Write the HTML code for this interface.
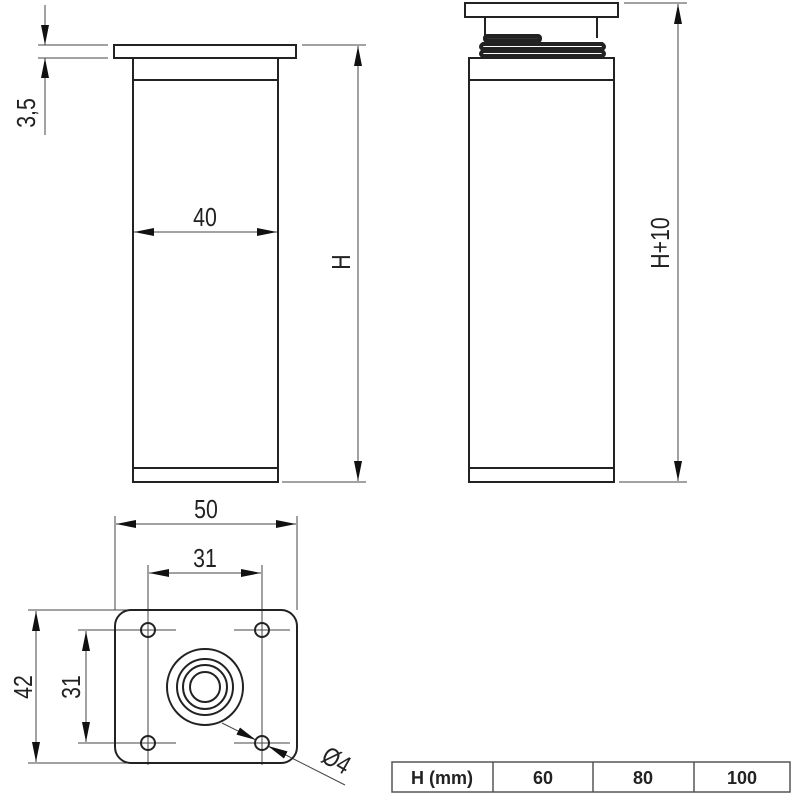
<!DOCTYPE html>
<html><head><style>
html,body{margin:0;padding:0;background:#fff;}
svg{display:block;}
text{font-family:"Liberation Sans",sans-serif;fill:#222;}
</style></head><body>
<svg width="800" height="800" viewBox="0 0 800 800" xmlns="http://www.w3.org/2000/svg">
<defs>
<marker id="a" viewBox="0 0 20 8" refX="20" refY="4" markerWidth="20" markerHeight="8" orient="auto-start-reverse" markerUnits="userSpaceOnUse"><path d="M0,0 L20,4 L0,8 Z" fill="#111"/></marker>
</defs>
<g fill="none" stroke="#222" stroke-width="2">
<rect x="114" y="45" width="182" height="13"/>
<rect x="133" y="58" width="145" height="424"/>
<line x1="133" y1="80" x2="278" y2="80"/>
<line x1="133" y1="468" x2="278" y2="468"/>
<rect x="465" y="3" width="153" height="14"/>
<line x1="485" y1="17" x2="485" y2="38"/>
<line x1="597" y1="17" x2="597" y2="38"/>
<rect x="469" y="58" width="145" height="424"/>
<line x1="469" y1="80" x2="614" y2="80"/>
<line x1="469" y1="468" x2="614" y2="468"/>
</g>
<g fill="none" stroke="#222" stroke-width="4">
<rect x="485" y="36" width="55" height="5" rx="2" fill="#333"/>
<path d="M483,44 Q479,47 483,49 L602,49 Q606,47 602,44 Z"/>
<path d="M483,51 Q479,54 483,56 L602,56 Q606,54 602,51 Z"/>
</g>
<g fill="none" stroke="#444" stroke-width="1">
<line x1="45" y1="5" x2="45" y2="45" marker-end="url(#a)"/>
<line x1="45" y1="135" x2="45" y2="58" marker-end="url(#a)"/>
<line x1="38" y1="45" x2="108" y2="45"/>
<line x1="38" y1="58" x2="108" y2="58"/>
<line x1="134" y1="232" x2="277" y2="232" marker-start="url(#a)" marker-end="url(#a)"/>
<line x1="302" y1="45" x2="366" y2="45"/>
<line x1="282" y1="482" x2="366" y2="482"/>
<line x1="358" y1="46" x2="358" y2="481" marker-start="url(#a)" marker-end="url(#a)"/>
<line x1="624" y1="3" x2="687" y2="3"/>
<line x1="619" y1="482" x2="687" y2="482"/>
<line x1="678" y1="4" x2="678" y2="481" marker-start="url(#a)" marker-end="url(#a)"/>
<line x1="115" y1="516" x2="115" y2="610"/>
<line x1="297" y1="516" x2="297" y2="610"/>
<line x1="116" y1="524" x2="296" y2="524" marker-start="url(#a)" marker-end="url(#a)"/>
<line x1="148" y1="565" x2="148" y2="765"/>
<line x1="262" y1="565" x2="262" y2="765"/>
<line x1="149" y1="573" x2="261" y2="573" marker-start="url(#a)" marker-end="url(#a)"/>
<line x1="28" y1="610" x2="130" y2="610"/>
<line x1="28" y1="763" x2="130" y2="763"/>
<line x1="36" y1="611" x2="36" y2="762" marker-start="url(#a)" marker-end="url(#a)"/>
<line x1="78" y1="630" x2="176" y2="630"/>
<line x1="78" y1="743" x2="176" y2="743"/>
<line x1="86" y1="631" x2="86" y2="742" marker-start="url(#a)" marker-end="url(#a)"/>
<line x1="234" y1="630" x2="290" y2="630"/>
<line x1="234" y1="743" x2="290" y2="743"/>
<line x1="222" y1="723" x2="256" y2="740" marker-end="url(#a)"/>
<line x1="345" y1="785" x2="268" y2="746" marker-end="url(#a)"/>
</g>
<g fill="none" stroke="#222" stroke-width="2">
<rect x="115" y="610" width="182" height="153" rx="16"/>
<circle cx="148" cy="630" r="7"/>
<circle cx="262" cy="630" r="7"/>
<circle cx="148" cy="743" r="7"/>
<circle cx="262" cy="743" r="7"/>
<circle cx="205" cy="687" r="38"/>
<circle cx="205" cy="687" r="28"/>
<circle cx="205" cy="687" r="22"/>
<circle cx="205" cy="687" r="15"/>
</g>
<g font-size="26">
<text transform="translate(205 226) scale(0.82 1)" text-anchor="middle">40</text>
<text transform="translate(350 262) rotate(-90) scale(0.82 1)" text-anchor="middle">H</text>
<text transform="translate(669 243) rotate(-90) scale(0.82 1)" text-anchor="middle">H+10</text>
<text transform="translate(35 113) rotate(-90) scale(0.82 1)" text-anchor="middle">3,5</text>
<text transform="translate(206 518) scale(0.82 1)" text-anchor="middle">50</text>
<text transform="translate(205 567) scale(0.82 1)" text-anchor="middle">31</text>
<text transform="translate(32 687) rotate(-90) scale(0.82 1)" text-anchor="middle">42</text>
<text transform="translate(80 687) rotate(-90) scale(0.82 1)" text-anchor="middle">31</text>
<text transform="translate(332 768) rotate(30) scale(0.82 1)" text-anchor="middle">Ø4</text>
</g>
<g fill="none" stroke="#555" stroke-width="1.5">
<rect x="392" y="762" width="398" height="30"/>
<line x1="493" y1="762" x2="493" y2="792"/>
<line x1="593" y1="762" x2="593" y2="792"/>
<line x1="694" y1="762" x2="694" y2="792"/>
</g>
<g font-size="18" font-weight="600" text-anchor="middle">
<text x="442" y="784" fill="#333">H (mm)</text>
<text x="543" y="784" fill="#333">60</text>
<text x="643" y="784" fill="#333">80</text>
<text x="742" y="784" fill="#333">100</text>
</g>
</svg>
</body></html>
